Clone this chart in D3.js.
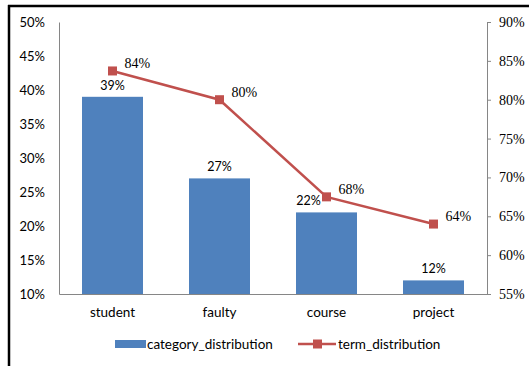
<!DOCTYPE html>
<html>
<head>
<meta charset="utf-8">
<script src="https://cdn.jsdelivr.net/npm/d3@7"></script>
<style>
  body { margin: 0; background: #fff; }
</style>
</head>
<body>
<div id="chart"></div>
<script>
var categories = ['student', 'faulty', 'course', 'project'],
    categoryDist = [0.39, 0.27, 0.22, 0.12],
    termDist = [0.837, 0.80, 0.675, 0.64],
    leftTicks = [0.10, 0.15, 0.20, 0.25, 0.30, 0.35, 0.40, 0.45, 0.50],
    rightTicks = [0.55, 0.60, 0.65, 0.70, 0.75, 0.80, 0.85, 0.90];

var width = 529, height = 366,
    plot = {left: 59, right: 487, top: 22, bottom: 294},
    blue = '#4F81BD', red = '#C0504D', axisGrey = '#868686',
    sans = 'Lato, "Open Sans", sans-serif',
    serif = '"Liberation Serif", "Times New Roman", "DejaVu Serif", serif',
    pct = d3.format('.0%');

var svg = d3.select('#chart').append('svg').attr('width', width).attr('height', height);

// outer frame (only top and left edge show)
svg.append('line').attr('x1', 8).attr('x2', width).attr('y1', 6).attr('y2', 6)
  .attr('stroke', '#000').attr('stroke-width', 2.5);
svg.append('line').attr('x1', 9).attr('x2', 9).attr('y1', 5).attr('y2', height)
  .attr('stroke', '#000').attr('stroke-width', 2.5);

var x = d3.scaleBand().domain(categories).range([plot.left, plot.right]).paddingInner(0.43).paddingOuter(0.215),
    yLeft = d3.scaleLinear().domain([0.10, 0.50]).range([plot.bottom, plot.top]),
    yRight = d3.scaleLinear().domain([0.55, 0.90]).range([plot.bottom, plot.top]);

// bars
svg.append('g').selectAll('rect').data(categoryDist).enter().append('rect')
  .attr('x', function (d, i) { return x(categories[i]); })
  .attr('width', x.bandwidth())
  .attr('y', function (d) { return yLeft(d); })
  .attr('height', function (d) { return plot.bottom - yLeft(d); })
  .attr('fill', blue);

// axes
var leftAxis = svg.append('g').attr('transform', 'translate(' + plot.left + ',0)')
  .call(d3.axisLeft(yLeft).tickValues(leftTicks).tickFormat(pct).tickSize(0).tickPadding(14));
leftAxis.attr('font-family', sans).attr('font-size', 13);

var rightAxis = svg.append('g').attr('transform', 'translate(' + plot.right + ',0)')
  .call(d3.axisRight(yRight).tickValues(rightTicks).tickFormat(pct).tickSize(4).tickPadding(8));
rightAxis.attr('font-family', serif).attr('font-size', 14);

var bottomAxis = svg.append('g').attr('transform', 'translate(0,' + plot.bottom + ')')
  .call(d3.axisBottom(x).tickSize(0).tickPadding(13));
bottomAxis.attr('font-family', sans).attr('font-size', 13.5);

svg.selectAll('.tick text').attr('fill', '#000');
svg.selectAll('.domain, .tick line').attr('stroke', axisGrey);

// term line
var cx = function (d, i) { return x(categories[i]) + x.bandwidth() / 2; };
var line = d3.line().x(cx).y(function (d) { return yRight(d); });
svg.append('path').datum(termDist).attr('d', line)
  .attr('fill', 'none').attr('stroke', red).attr('stroke-width', 2.5);
svg.append('g').selectAll('rect').data(termDist).enter().append('rect')
  .attr('x', function (d, i) { return cx(d, i) - 4.5; })
  .attr('y', function (d) { return yRight(d) - 4.5; })
  .attr('width', 9).attr('height', 9).attr('fill', red);
svg.append('g').attr('font-family', serif).attr('font-size', 14)
  .selectAll('text').data(termDist).enter().append('text')
  .attr('x', function (d, i) { return cx(d, i) + 12; })
  .attr('y', function (d) { return yRight(d) - 3; })
  .text(pct);

// bar labels; nudge left when a line marker sits on the label
svg.append('g').attr('font-family', sans).attr('font-size', 12.5)
  .selectAll('text').data(categoryDist).enter().append('text')
  .attr('x', function (d, i) {
    var mid = x(categories[i]) + x.bandwidth() / 2,
        clash = Math.abs(yRight(termDist[i]) - (yLeft(d) - 11)) < 10;
    return clash ? mid - 18 : mid;
  })
  .attr('y', function (d) { return yLeft(d) - 7; })
  .attr('text-anchor', 'middle')
  .text(pct);

// legend
var legend = svg.append('g').attr('transform', 'translate(0,344)')
  .attr('font-family', sans).attr('font-size', 13.5);
legend.append('rect').attr('x', 115).attr('y', -4).attr('width', 31).attr('height', 8).attr('fill', blue);
legend.append('text').attr('x', 147).attr('y', 5).text('category_distribution');
legend.append('line').attr('x1', 298).attr('x2', 336).attr('y1', 0).attr('y2', 0)
  .attr('stroke', red).attr('stroke-width', 2.5);
legend.append('rect').attr('x', 313).attr('y', -4.5).attr('width', 9).attr('height', 9).attr('fill', red);
legend.append('text').attr('x', 338).attr('y', 5).text('term_distribution');
</script>
</body>
</html>
